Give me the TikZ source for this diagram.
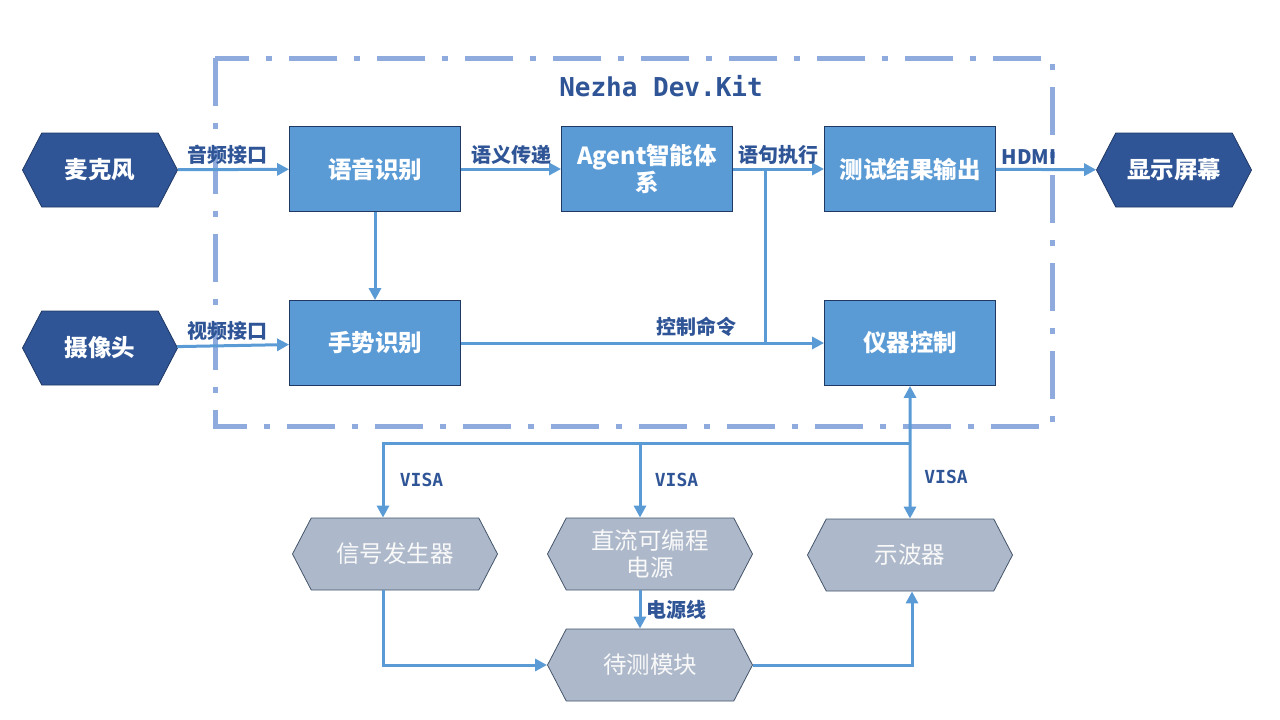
\documentclass[tikz,border=0pt]{standalone}
\usepackage{fontspec}
\setmainfont{Noto Sans CJK SC}
\newfontfamily\monofont{DejaVu Sans Mono}
\usetikzlibrary{arrows.meta}
\usetikzlibrary{shapes.symbols}
\definecolor{boxblue}{HTML}{5B9BD5}
\definecolor{boxedge}{HTML}{203864}
\definecolor{portblue}{HTML}{2F5597}
\definecolor{instgray}{HTML}{ADB9CA}
\definecolor{instedge}{HTML}{44546A}
\definecolor{lblblue}{HTML}{2F5597}
\definecolor{kitblue}{HTML}{8FAADC}
\tikzset{
  proc/.style={draw=boxedge, line width=0.8pt, fill=boxblue, text=white, minimum width=171pt, minimum height=85pt, align=center, font=\fontsize{23.5pt}{27pt}\selectfont\bfseries},
  port/.style={shape=signal, signal to=east and west, signal pointer angle=125, draw=boxedge, line width=0.8pt, fill=portblue, text=white, minimum width=155pt, minimum height=74pt, inner sep=0pt, align=center, font=\fontsize{23.5pt}{27pt}\selectfont\bfseries},
  instr/.style={port, fill=instgray, draw=instedge, text=white!95!gray, minimum width=205pt, minimum height=72pt, font=\fontsize{23.5pt}{27pt}\selectfont},
  flow/.style={draw=boxblue, line width=3pt, -{Triangle[length=12pt,width=12pt]}},
  lbl/.style={text=lblblue, font=\fontsize{20pt}{22pt}\selectfont\bfseries},
  visa/.style={text=lblblue, font=\fontsize{18pt}{20pt}\monofont\bfseries},
}

\begin{document}
\begin{tikzpicture}[x=1pt, y=-1pt]
    \useasboundingbox (0,0) rectangle (1280,720);

    % Nezha kit frame
    \draw[kitblue, line width=5pt, dash pattern=on 48pt off 17pt on 6pt off 17pt] (215,58) rectangle (1052,426);
    \node[text=lblblue, font=\fontsize{26pt}{30pt}\monofont\bfseries] at (661,86) (kit) {Nezha Dev.Kit};

    \node[port] at (100,170) (mic) {麦克风};
    \node[port] at (100,348) (cam) {摄像头};
    \node[port] at (1174,170) (screen) {显示屏幕};

    \node[proc] at (375,169) (asr) {语音识别};
    \node[proc] at (647,169) (agent) {Agent智能体\\系};
    \node[proc] at (910,169) (out) {测试结果输出};
    \node[proc] at (375,343) (gest) {手势识别};
    \node[proc] at (910,343) (ctrl) {仪器控制};

    \node[instr] at (395,554) (sig) {信号发生器};
    \node[instr] at (650,554) (psu) {直流可编程\\电源};
    \node[instr] at (910,555) (scope) {示波器};
    \node[instr] at (650,665) (dut) {待测模块};

    \draw[flow] (mic) -- node[lbl, above=0pt, pos=0.45] {音频接口} (asr);
    \draw[flow] (asr) -- node[lbl, above=0pt] {语义传递} (agent);
    \draw[flow] (agent) -- node[lbl, above=0pt] {语句执行} (out);
    \draw[flow] (out) -- node[lbl, above=0pt, pos=0.33] {HDMI} (screen);
    \draw[flow] (asr) -- (gest);
    \draw[flow] (cam) -- node[lbl, above=0pt, pos=0.45] {视频接口} (gest);
    \draw[flow] (gest) -- node[lbl, above=2pt, pos=0.65] {控制命令} (ctrl);

    % execution branch
    \coordinate (j1) at (765,169);
    \draw[draw=boxblue, line width=3pt] (j1) -- (j1 |- ctrl.west);

    % VISA bus
    \coordinate (bus) at (910,443);
    \draw[flow, {Triangle[length=12pt,width=12pt]}-{Triangle[length=12pt,width=12pt]}] (ctrl) -- (scope);
    \draw[flow] (bus) -| node[visa, right=12pt, pos=0.75] {VISA} ([xshift=-12pt]sig.north);
    \draw[flow] (bus -| psu.north) ++(-10pt,0) -- node[visa, right=10pt] {VISA} ([xshift=-10pt]psu.north);
    \node[visa] at (946,477) (visa3) {VISA};

    \draw[flow] ([xshift=-10pt]psu.south) -- node[lbl, right=2pt] {电源线} ([xshift=-10pt]dut.north);
    \draw[flow] ([xshift=-12pt]sig.south) |- (dut);
    \draw[flow] (dut) -| ([xshift=2pt]scope.south);
\end{tikzpicture}
\end{document}
